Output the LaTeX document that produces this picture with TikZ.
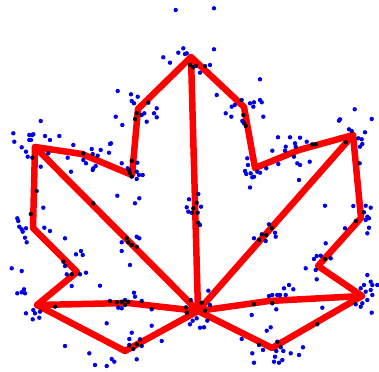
\documentclass[tikz,border=0pt]{standalone}
\begin{document}
\begin{tikzpicture}[x=1pt,y=-1pt,
  edge/.style={draw={rgb,255:red,255;green,0;blue,0},line width=6.5pt,line join=round,line cap=round},
  pt/.style={fill={rgb,255:red,0;green,0;blue,230}},
  vtx/.style={inner sep=0pt,minimum size=0pt}]
\useasboundingbox (0,0) rectangle (379,371);
% scatter points
\foreach \x/\y in {
175.7/10, 214/8.3, 214/49.3,
163.3/57.3, 170/62.7, 178.3/52.7, 183.3/48.3, 185/54, 186.7/53.3,
190/65, 193.3/67.3, 196/66, 200/72.7, 205/66, 210/65,
117.7/91, 131/94.3, 137.7/96.7, 131.7/101, 134/103.3, 148.3/102.7, 156.7/108.3,
154/113.3, 156.7/117.3, 144.3/113.3, 141.7/115, 136.7/113.3, 135/119, 146.7/121.7,
115.7/116.7, 122.3/125,
40.7/121, 13.3/133.3, 14.3/141.7, 29.3/135, 32.3/135, 33.3/134.3, 29.3/140, 31/140,
45/136, 50/140, 59.3/136, 21.7/147.3, 26/151.7, 27.7/156.7, 32.3/157.7, 48.3/153.3,
40.7/166.7, 73.3/145, 67.7/157.7, 71/171.7, 83.3/153.3, 91.7/149, 100.7/150,
92.7/154, 97.7/155.7, 110/144, 111/143.3, 109/152.7, 83.3/160, 86/163.3, 95.7/166,
93.3/168.3, 92.7/170, 121.7/163.3, 131.7/160.7, 137.3/162.7, 127.7/168.3, 129/170,
130/173.3, 136.7/171.7, 139/175, 142.7/175, 136.7/179, 131.7/176.7,
260/79.3, 216.7/95, 241.7/100, 250/103.3, 254/102.3, 260/100, 261.7/102.3,
253.3/106.7, 231.7/106.7, 234.7/105, 225.7/113.3, 231.3/116.7, 243.3/115,
263.3/116.7, 242.3/121, 244/123.3, 245.7/126,
247.3/158.3, 248/165, 245/171, 246.3/174, 250.7/173.3, 254/176.7, 252.3/177.3,
257.3/171.7, 260/172.7, 266.3/168.3, 250/187.5,
278/137.3, 272.3/150.7, 278.3/164, 285.7/146.7, 285/150.7, 290/137.3, 295/143.3,
295.7/146.7, 300/137.7, 294/156.7, 297.3/163.3, 300/165, 306.7/141.7, 312.3/144.3,
315.7/144.3, 309.7/161.7, 299/180,
339/120.7, 340/119.3, 354.7/109.3, 371.7/119, 349/129.3, 351.7/131, 365/132.3,
358.3/138.3, 361.7/139.3, 362.3/144, 360/146.7, 345.7/142.3, 359.7/163.3,
36.7/191, 43.3/207.7, 30.7/214, 17.3/218.3, 18.3/221, 19.3/226.7, 21.7/229.3,
22.7/231.7, 26/228.3, 25/237.7, 26.7/242.3, 44.3/227.7, 50/231, 65/238.3,
81/251, 76/254.3, 82.7/255, 63.3/261.7, 65/266, 66.7/274.3, 71.7/274.3, 80/274.3,
86/272.7, 71.7/286, 11.7/268.3, 21.7/271, 24/289.3, 21.7/292.3, 17.3/293.3,
25/293.3, 33.3/310, 35/313.3, 26/313.3, 40/311.7, 39.3/317.7, 32.7/319.3,
55/306.7, 100/285.7, 93.3/203.3, 117.3/195.7, 135/203.3, 139.3/198.3,
126.7/238.3, 121.7/242.3, 128.3/242.3, 131.7/245, 136.7/236.7, 139.3/238.3,
136.7/246.7, 121.7/251, 130/265,
110/301, 116.7/302.3, 121.7/301.7, 125/300, 128.3/301.7, 118.3/307.7, 121.7/308.3,
125/305, 134/292.7, 135/296.7, 141.7/301, 106.7/323.3, 151.7/325.7,
131.7/332.7, 129.3/339, 140/339.3, 136.7/344.3, 141.7/346, 129.3/345, 133.3/349,
136.7/359.3, 65/346, 89.3/353.3, 111.7/359, 114.3/361.7, 95/365, 106.7/366,
198.3/194, 189/199.3, 196.7/202.7, 186.7/207.3, 201/206.7, 188.3/211.7,
191.7/212.7, 197.7/212.7, 198.3/222.7, 200/225, 193.3/208.3,
208.3/290.7, 190.7/300, 201.7/302.7, 210/305, 186/307.3, 186.7/312.7, 205/310.7,
196.7/318.3, 192.7/320.7, 190/324.3, 207.3/320.7, 200/327.7, 204/327.3,
151.7/309.3, 161.7/341, 241.7/339,
325/205.7, 353.3/206, 365.7/205.7, 370.7/207.7, 364/212.3, 367.3/216.7, 369/218.3,
365.7/220, 369/227.7, 367.3/233.3, 345/228.3, 355.7/221,
269/224.3, 271.7/228.3, 275/232.7, 275.7/236.7, 266.3/235, 261.7/234.3, 254/238.3,
259/240, 265.7/241,
325.7/243.3, 316.7/256, 320.7/255.7, 325/259, 330.7/258.3, 314/259, 305.7/268.3,
315.7/270, 316.7/279.3,
367.3/275, 370.7/281.7, 364/285, 372.3/285, 377.3/285, 370.7/290, 365.7/291.7,
360.7/288.3, 372.3/295, 367.3/300, 362.3/303.3, 355.7/304.3, 360.7/306.7,
371.7/312.7, 322.3/307.7,
269/296, 272.3/295, 277.3/295, 280/295, 285.7/295, 284/288.3, 289/285, 293.3/289.3,
272.3/303.3, 276.3/309.3, 251.7/315, 254/304.3,
266.7/330.7, 270.7/327.3, 259/345, 263/350, 252.3/353.3, 254/362.7,
277.3/341.7, 280.7/347.3, 276.3/351, 283.3/351, 290.7/353.3, 299/355, 303/347.3,
275/356.7, 282.3/360, 274/361.7, 279/362.7, 317.3/324.3}
  \fill[pt] (\x,\y) circle (2.2);
% vertices
\node[vtx] (T)   at (191,57)  {};
\node[vtx] (LN)  at (138,109) {};
\node[vtx] (LI)  at (132,175) {};
\node[vtx] (LM)  at (82,154)  {};
\node[vtx] (LT)  at (35,147)  {};
\node[vtx] (LL)  at (33,228)  {};
\node[vtx] (LN2) at (77,272)  {};
\node[vtx] (LB)  at (37,305)  {};
\node[vtx] (LBM) at (128,303) {};
\node[vtx] (BL)  at (125,351) {};
\node[vtx] (C)   at (198,311) {};
\node[vtx] (BR)  at (272,348) {};
\node[vtx] (RBM) at (269,301) {};
\node[vtx] (RB)  at (362,296) {};
\node[vtx] (RN)  at (318,266) {};
\node[vtx] (RL)  at (361,218) {};
\node[vtx] (RT)  at (353,135) {};
\node[vtx] (RM)  at (299,150) {};
\node[vtx] (RI)  at (255,168) {};
\node[vtx] (RN1) at (244,107) {};
\begin{scope}[blend mode=multiply]
\draw[edge] (T.center) -- (LN.center) -- (LI.center) -- (LM.center) -- (LT.center)
  -- (LL.center) -- (LN2.center) -- (LB.center) -- (BL.center) -- (C.center)
  -- (BR.center) -- (RB.center) -- (RN.center) -- (RL.center) -- (RT.center)
  -- (RM.center) -- (RI.center) -- (RN1.center) -- cycle;
\draw[edge] (T.center) -- (C.center);
\draw[edge] (LT.center) -- (C.center);
\draw[edge] (RT.center) -- (C.center);
\draw[edge] (LB.center) -- (LBM.center) -- (C.center);
\draw[edge] (C.center) -- (RBM.center) -- (RB.center);
\end{scope}
\end{tikzpicture}
\end{document}
